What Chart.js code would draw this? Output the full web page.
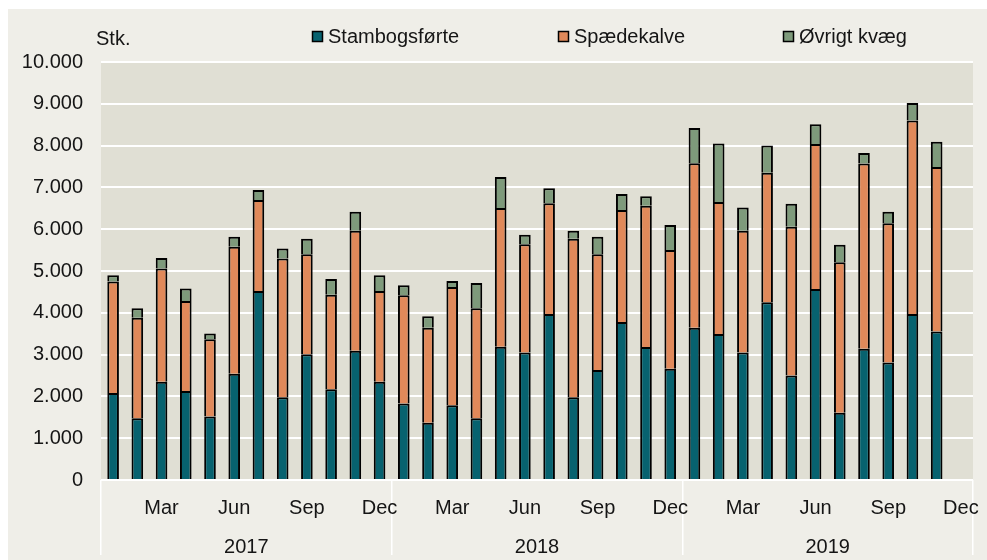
<!DOCTYPE html>
<html>
<head>
<meta charset="utf-8">
<script src="https://cdn.jsdelivr.net/npm/chart.js@4.4.1/dist/chart.umd.min.js"></script>
<style>
  html, body { margin: 0; padding: 0; background: #ffffff; }
  #wrap { position: absolute; left: 8px; top: 9px; width: 979px; height: 551px; background: #efeee8; }
  canvas { display: block; }
</style>
</head>
<body>
<div id="wrap"><canvas id="c" width="979" height="551"></canvas></div>
<script>
// ---- Data ----
const years = ['2017', '2018', '2019'];
const months = ['Jan', 'Feb', 'Mar', 'Apr', 'Maj', 'Jun', 'Jul', 'Aug', 'Sep', 'Okt', 'Nov', 'Dec'];
const shownMonths = ['Mar', 'Jun', 'Sep', 'Dec'];
const categories = years.flatMap(y => months.map(m => m + ' ' + y));

const seriesNames = ['Stambogsførte', 'Spædekalve', 'Øvrigt kvæg'];

const stambogsforte = [
  2080, 1480, 2350, 2130, 1520, 2540, 4520, 1980, 3010, 2170, 3090, 2350,
  1830, 1370, 1790, 1480, 3190, 3050, 3970, 1980, 2630, 3780, 3180, 2660,
  3640, 3490, 3050, 4250, 2500, 4570, 1610, 3140, 2810, 3970, 3550, null
];
const spaedekalve = [
  2670, 2400, 2710, 2150, 1850, 3040, 2180, 3320, 2390, 2260, 2870, 2170,
  2590, 2270, 2830, 2630, 3320, 2590, 2650, 3790, 2770, 2680, 3380, 2840,
  3940, 3160, 2910, 3100, 3560, 3470, 3600, 4430, 3330, 4630, 3940, null
];
const ovrigtKvaeg = [
  150, 230, 250, 300, 135, 240, 240, 240, 370, 380, 460, 380,
  240, 280, 140, 600, 740, 230, 360, 190, 420, 380, 230, 600,
  840, 1400, 560, 650, 550, 470, 420, 250, 280, 420, 600, null
];

const yTicksMin = 0, yTicksMax = 10000, yTicksStep = 1000;
const unitLabel = 'Stk.';

// ---- Styles ----
const COLORS = ['#07626f', '#e0895a', '#7e9a7b'];
const TEXT = '#151515';
const FONT = 'Liberation Sans, Arial, sans-serif';
const FSIZE = 20;

Chart.defaults.font.family = FONT;
Chart.defaults.font.size = FSIZE;
Chart.defaults.color = TEXT;

const fmt = v => String(v).replace(/\B(?=(\d{3})+(?!\d))/g, '.');

const decorPlugin = {
  id: 'decor',
  beforeDraw(chart) {
    const { ctx, chartArea: a } = chart;
    ctx.save();
    ctx.fillStyle = '#e0dfd4';
    ctx.fillRect(a.left, a.top, a.right - a.left, a.bottom - a.top);
    ctx.restore();
  },
  afterDraw(chart) {
    const { ctx } = chart;
    ctx.save();
    ctx.font = FSIZE + 'px ' + FONT;
    ctx.fillStyle = TEXT;
    ctx.textBaseline = 'middle';
    ctx.textAlign = 'left';
    // unit label
    ctx.fillText(unitLabel, 88, 30);
    // legend
    const starts = [304, 550, 775];
    chart.data.datasets.forEach((ds, i) => {
      const x = starts[i];
      ctx.fillStyle = ds.backgroundColor;
      ctx.fillRect(x, 22, 11, 11);
      ctx.strokeStyle = '#000';
      ctx.lineWidth = 1.5;
      ctx.strokeRect(x + 0.5, 22.5, 10, 10);
      ctx.fillStyle = TEXT;
      ctx.fillText(ds.label, x + 16, 28);
    });
    ctx.restore();
  }
};

const mk = (label, data, color) => ({
  label, data,
  backgroundColor: color,
  borderColor: '#000000',
  borderWidth: 2,
  categoryPercentage: 1.0,
  barPercentage: 0.48
});

new Chart(document.getElementById('c'), {
  type: 'bar',
  data: {
    labels: categories,
    datasets: [
      mk(seriesNames[0], stambogsforte, COLORS[0]),
      mk(seriesNames[1], spaedekalve, COLORS[1]),
      mk(seriesNames[2], ovrigtKvaeg, COLORS[2])
    ]
  },
  options: {
    responsive: false,
    devicePixelRatio: 1,
    animation: false,
    layout: { padding: { top: 53, right: 14, bottom: 6, left: 0 } },
    plugins: { legend: { display: false }, tooltip: { enabled: false }, title: { display: false } },
    scales: {
      x: {
        stacked: true,
        weight: 0,
        grid: {
          offset: true,
          drawOnChartArea: false,
          tickLength: 75,
          lineWidth: 1.5,
          color: c => (c.index === undefined || c.index % 12 === 0) ? '#ffffff' : 'rgba(0,0,0,0)'
        },
        border: { display: false },
        ticks: {
          autoSkip: false,
          maxRotation: 0,
          minRotation: 0,
          padding: -59,
          color: TEXT,
          callback: (v, i) => {
            const m = months[i % 12];
            return shownMonths.includes(m) ? m : '';
          }
        },
        afterFit: s => { s.height = 44; }
      },
      x2: {
        type: 'category',
        labels: years,
        position: 'bottom',
        offset: true,
        weight: 1,
        grid: { display: false, drawOnChartArea: false },
        border: { display: false },
        ticks: { padding: 3, color: TEXT, maxRotation: 0 },
        afterFit: s => { s.height = 30; }
      },
      y: {
        stacked: true,
        min: yTicksMin,
        max: yTicksMax,
        grid: { color: '#ffffff', lineWidth: 2, drawTicks: false },
        border: { display: false },
        ticks: { stepSize: yTicksStep, padding: 18, color: TEXT, callback: v => fmt(v) },
        afterFit: s => { s.width = 93; }
      }
    }
  },
  plugins: [decorPlugin]
});
</script>
</body>
</html>
